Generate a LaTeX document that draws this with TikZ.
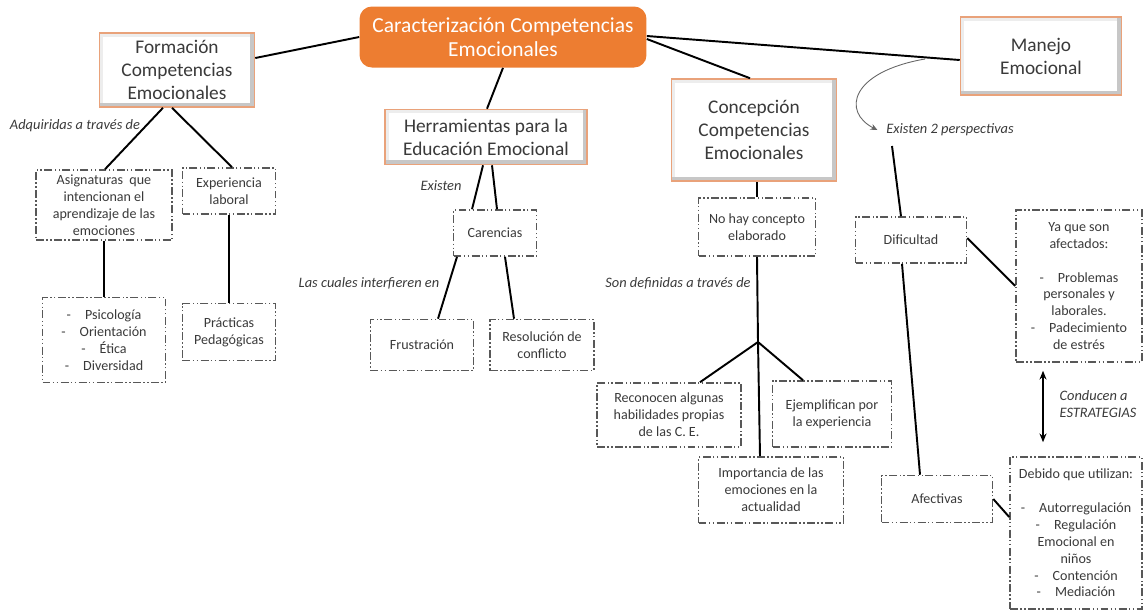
\documentclass[tikz,border=0pt]{standalone}
\usepackage{fontspec}
\setmainfont{Carlito}
\usetikzlibrary{arrows.meta}
\definecolor{titleorange}{HTML}{ED7D31}
\definecolor{rimorange}{HTML}{E9A27A}
\definecolor{inkgray}{HTML}{3A3A3A}
\tikzset{inner sep=2pt}

\begin{document}
\begin{tikzpicture}[x=0.02cm,y=-0.02cm,
            main/.style={rectangle,rounded corners=7pt,fill=titleorange,text=white,
                font=\fontsize{12.2}{13.4}\selectfont,align=center},
            head/.style={rectangle,draw=rimorange,line width=0.9pt,fill=white,
                path picture={
                    \draw[black!7,line width=4pt] (path picture bounding box.south west)
                        -- (path picture bounding box.north west) -- (path picture bounding box.north east);
                    \draw[black!22,line width=5pt] (path picture bounding box.north east)
                        -- (path picture bounding box.south east) -- (path picture bounding box.south west);
                },
                text=inkgray,font=\fontsize{11}{13}\selectfont,align=center},
            leaf/.style={rectangle,draw=inkgray!85,line width=0.9pt,
                dash pattern=on 4.5pt off 1.4pt on 0.8pt off 1.4pt on 0.8pt off 1.4pt,
                text=inkgray,font=\fontsize{8}{9.6}\selectfont,align=center},
            tag/.style={font=\fontsize{8.2}{9.6}\selectfont\itshape,text=inkgray},
            link/.style={draw,line width=1.1pt}
            ]
            \useasboundingbox (0,0) rectangle (1143,610);
            % main topics
            \node[main,minimum width=5.74cm,minimum height=1.22cm] (title) at (503,37)
                {Caracterización Competencias\\Emocionales};
            \node[head,minimum width=3.1cm,minimum height=1.48cm] (form) at (177,70)
                {Formación\\Competencias\\Emocionales};
            \node[head,minimum width=4.04cm,minimum height=1.1cm] (herr) at (486,137)
                {Herramientas para la\\Educación Emocional};
            \node[head,minimum width=3.3cm,minimum height=2.04cm] (concep) at (754,130)
                {Concepción\\Competencias\\Emocionales};
            \node[head,minimum width=3.22cm,minimum height=1.56cm] (manejo) at (1041,56)
                {Manejo\\Emocional};
            % formacion
            \node[leaf,minimum width=2.72cm,minimum height=1.4cm] (asig) at (104,205)
                {Asignaturas\ \ que\\intencionan el\\aprendizaje de las\\emociones};
            \node[leaf,minimum width=1.86cm,minimum height=0.92cm] (exper) at (229,191)
                {Experiencia\\laboral};
            \node[leaf,minimum width=2.46cm,minimum height=1.7cm] (psico) at (104,340)
                {-\quad Psicología\\-\quad Orientación\\-\quad Ética\\-\quad Diversidad};
            \node[leaf,minimum width=1.86cm,minimum height=1.14cm] (prac) at (229,332)
                {Prácticas\\Pedagógicas};
            % herramientas
            \node[leaf,minimum width=1.66cm,minimum height=0.92cm] (caren) at (495,233) {Carencias};
            \node[leaf,minimum width=2.06cm,minimum height=1.02cm] (frus) at (422,345) {Frustración};
            \node[leaf,minimum width=2.08cm,minimum height=1.02cm] (resol) at (542,345)
                {Resolución de\\conflicto};
            % concepcion
            \node[leaf,minimum width=2.34cm,minimum height=1.16cm] (nohay) at (757,227)
                {No hay concepto\\elaborado};
            \node[leaf,minimum width=2.88cm,minimum height=1.28cm] (recon) at (669,415)
                {Reconocen algunas\\habilidades propias\\de las C. E.};
            \node[leaf,minimum width=2.38cm,minimum height=1.32cm] (ejemp) at (832,414)
                {Ejemplifican por\\la experiencia};
            \node[leaf,minimum width=2.9cm,minimum height=1.32cm] (impor) at (771,490)
                {Importancia de las\\emociones en la\\actualidad};
            % manejo
            \node[leaf,minimum width=2.22cm,minimum height=0.92cm] (dific) at (911,240) {Dificultad};
            \node[leaf,minimum width=2.52cm,minimum height=3.04cm] (yaque) at (1079,286)
                {Ya que son\\afectados:\\[9.6pt]-\quad Problemas\\personales y\\laborales.\\-\quad Padecimiento\\de estrés};
            \node[leaf,minimum width=2.22cm,minimum height=0.94cm] (afect) at (937,499) {Afectivas};
            \node[leaf,minimum width=2.64cm,minimum height=3.04cm] (debido) at (1076,533)
                {Debido que utilizan:\\[9.6pt]-\quad Autorregulación\\-\quad Regulación\\Emocional en\\niños\\-\quad Contención\\-\quad Mediación};
            % labels
            \node[tag] (adq) at (75,126) {Adquiridas a través de};
            \node[tag] (exist) at (441,186) {Existen};
            \node[tag] (cuales) at (369,283) {Las cuales interfieren en};
            \node[tag] (defin) at (678,283) {Son definidas a través de};
            \node[tag] (persp) at (950,130) {Existen 2 perspectivas};
            \node[tag,align=left] (conduc) at (1098,404) {Conducen a\\ESTRATEGIAS};
            \coordinate (fork) at (758,342);
            \coordinate (bend) at (925,59);
            % connectors
            \draw[link] (title.west) -- ([yshift=0.24cm]form.east);
            \draw[link] (title.south) -- ([xshift=0.02cm]herr.north);
            \draw[link] ([yshift=-0.04cm]title.east) -- ([xshift=-0.08cm]concep.north);
            \draw[link] ([yshift=0.02cm]title.east) -- ([yshift=-0.08cm]manejo.west);
            \draw[link] ([xshift=-0.28cm]form.south) -- ([xshift=0.02cm]asig.north);
            \draw[link] ([xshift=-0.1cm]form.south) -- ([xshift=0.06cm]exper.north);
            \draw[link] (asig.south) -- (psico.north);
            \draw[link] (exper.south) -- (prac.north);
            \draw[link] ([xshift=-0.06cm]herr.south) -- ([xshift=-0.46cm]caren.north);
            \draw[link] ([xshift=0.12cm]herr.south) -- ([xshift=0.04cm]caren.north);
            \draw[link] ([xshift=-0.76cm]caren.south) -- ([xshift=0.32cm]frus.north);
            \draw[link] ([xshift=0.2cm]caren.south) -- ([xshift=-0.56cm]resol.north);
            \draw[link] (nohay.north) -- (nohay.north |- concep.south);
            \draw[link] (nohay.south) -- (fork);
            \draw[link] (fork) -- ([xshift=0.62cm]recon.north);
            \draw[link] (fork) -- ([xshift=-0.58cm]ejemp.north);
            \draw[link] (fork) -- ([xshift=-0.22cm]impor.north);
            \draw[gray!80!black,line width=0.5pt,-{Stealth[length=4pt,width=3.5pt]}]
                (bend) .. controls (850,72) and (842,112) .. ([xshift=-0.1cm]persp.west);
            \draw[link] ([xshift=-1.16cm,yshift=-0.12cm]persp.south) -- ([xshift=-0.2cm]dific.north);
            \draw[link] ([xshift=-0.18cm]dific.south) -- ([xshift=-0.34cm]afect.north);
            \draw[link] ([yshift=0.04cm]dific.east) -- (yaque.west);
            \draw[link] (afect.east) -- ([yshift=0.32cm]debido.west);
            \draw[link,{Stealth[length=5pt,width=4pt]}-{Stealth[length=5pt,width=4pt]},
                shorten <=0.16cm,shorten >=0.28cm]
                ([xshift=-0.72cm]yaque.south) -- ([xshift=-0.66cm]debido.north);
        \end{tikzpicture}
\end{document}
